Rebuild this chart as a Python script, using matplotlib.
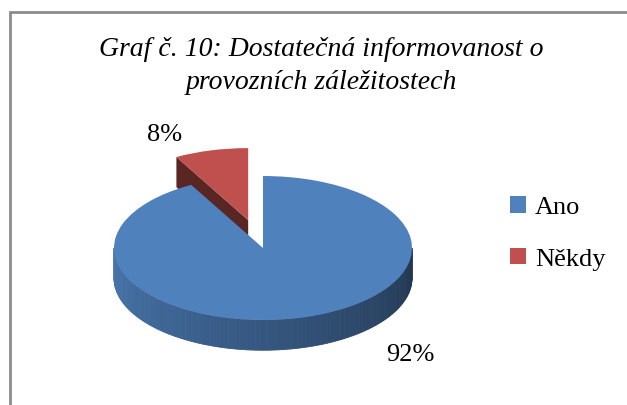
import numpy as np
import matplotlib.pyplot as plt
from matplotlib.patches import Polygon, Rectangle
from matplotlib.colors import to_rgb

# data
labels = ['Ano', 'Někdy']
values = [92, 8]
pct_labels = ['92%', '8%']
colors = ['#4f81bd', '#c0504d']
explode = [0, 0.40]
title = 'Graf č. 10: Dostatečná informovanost o\nprovozních záležitostech'

W, H = 627, 406
fig = plt.figure(figsize=(W / 100, H / 100), dpi=100)
plt.rcParams['font.family'] = ['Liberation Serif', 'DejaVu Serif']

# outer grey frame (cut off at right / bottom like the screenshot)
fig.patches.append(Rectangle((9.5 / W, -0.1), 1.2, 1 - 12.5 / H + 0.1,
                             transform=fig.transFigure, fill=False,
                             edgecolor='#8c8c8c', linewidth=2))

# pie axes: unit circle becomes an ellipse of 149 x 72 px
rx, ry = 149, 72
cx, cy = 263, 249
xl = (-1.6, 1.6)
yl = (-2.1, 2.3)
ax = fig.add_axes([(cx + xl[0] * rx) / W, (H - cy + yl[0] * ry) / H,
                   (xl[1] - xl[0]) * rx / W, (yl[1] - yl[0]) * ry / H])

depth = 0.42
wedges, _ = ax.pie(values, colors=colors, explode=explode, startangle=90,
                   counterclock=False, radius=1,
                   wedgeprops=dict(linewidth=0))
ax.set_aspect('auto')
ax.set_xlim(*xl)
ax.set_ylim(*yl)
ax.axis('off')


def shade(c, f):
    r, g, b = to_rgb(c)
    return (r * f, g * f, b * f)


def draw_sides(w, col, z):
    ox, oy = w.center
    t1, t2 = w.theta1, w.theta2
    # outer curved side, only the front half (180..360 deg) is visible
    for k in range(-1, 3):
        a0 = max(t1, 180 + 360 * k)
        a1 = min(t2, 360 + 360 * k)
        if a1 <= a0:
            continue
        n = 120
        ts = np.linspace(a0, a1, n + 1)
        for i in range(n):
            ta, tb = np.radians(ts[i]), np.radians(ts[i + 1])
            frac = ((ts[i] - 360 * k) - 180) / 180
            c = shade(col, 0.92 - 0.5 * frac)
            xs = [ox + np.cos(ta), ox + np.cos(tb), ox + np.cos(tb), ox + np.cos(ta)]
            ys = [oy + np.sin(ta), oy + np.sin(tb), oy + np.sin(tb) - depth,
                  oy + np.sin(ta) - depth]
            ax.add_patch(Polygon(list(zip(xs, ys)), closed=True, facecolor=c,
                                 edgecolor=c, linewidth=0.6, zorder=z))
    # radial cut faces
    for t, vis in ((t1, np.cos(np.radians(t1)) > 1e-6),
                   (t2, np.cos(np.radians(t2)) < -1e-6)):
        if not vis:
            continue
        tr = np.radians(t)
        px, py = ox + np.cos(tr), oy + np.sin(tr)
        pts = [(ox, oy), (px, py), (px, py - depth), (ox, oy - depth)]
        ax.add_patch(Polygon(pts, closed=True, facecolor=shade(col, 0.47),
                             edgecolor='none', zorder=z))


# back (exploded) slice first, then the big front slice
order = [1, 0]
for j, i in enumerate(order):
    draw_sides(wedges[i], colors[i], 2 * j + 1)
    wedges[i].set_zorder(2 * j + 2)

# percentage labels
ax.text(0.99, -1.47, pct_labels[0], fontsize=19, ha='center', va='center')
ax.text(-0.66, 1.58, pct_labels[1], fontsize=19, ha='center', va='center')

# title
fig.text(321 / W, 1 - 66 / H, title, fontsize=20, style='italic',
         ha='center', va='center', linespacing=1.45)

# legend
fig.legend(wedges, labels, loc='center left',
           bbox_to_anchor=(486 / W, 1 - 234 / H), frameon=False,
           fontsize=19, handlelength=0.6, handleheight=0.6,
           handletextpad=0.35, labelspacing=1.1)

fig.savefig('out.png', dpi=100)
